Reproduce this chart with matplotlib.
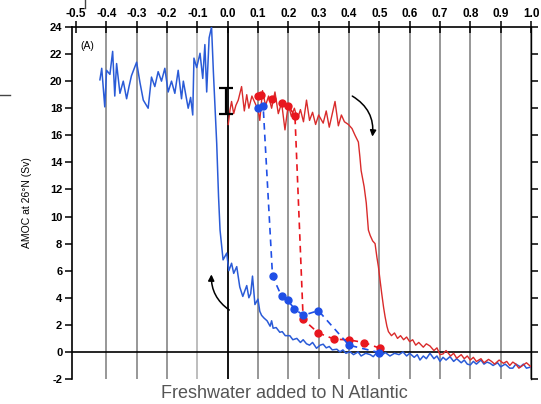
import numpy as np
import matplotlib
matplotlib.use("Agg")
import matplotlib.pyplot as plt
from matplotlib.patches import FancyArrowPatch
from matplotlib.lines import Line2D

plt.rcParams['font.family'] = ['Liberation Sans', 'DejaVu Sans']

# backward branch (blue), freshwater reduced
blue_x = [-0.421, -0.415, -0.405, -0.399, -0.388, -0.379, -0.372, -0.366, -0.355, -0.344,
          -0.333, -0.325, -0.317, -0.300, -0.289, -0.278, -0.262, -0.251, -0.240, -0.229,
          -0.218, -0.207, -0.196, -0.185, -0.174, -0.163, -0.152, -0.146, -0.130, -0.122,
          -0.115, -0.111, -0.102, -0.091, -0.082, -0.075, -0.069, -0.061, -0.053, -0.047,
          -0.036, -0.030, -0.025, -0.015, -0.003, 0.004, 0.013, 0.020, 0.030, 0.040,
          0.050, 0.063, 0.070, 0.076, 0.082, 0.090, 0.100, 0.106, 0.112, 0.120,
          0.130, 0.140, 0.145, 0.150, 0.160, 0.172, 0.180, 0.190, 0.205, 0.215,
          0.228, 0.240, 0.249, 0.260, 0.270, 0.280, 0.293, 0.305, 0.315, 0.325,
          0.335, 0.345, 0.360, 0.370, 0.380, 0.390, 0.403, 0.415, 0.430, 0.440,
          0.455, 0.470, 0.480, 0.490, 0.500, 0.510, 0.520, 0.535, 0.550, 0.565,
          0.578, 0.590, 0.600, 0.615, 0.625, 0.634, 0.645, 0.655, 0.667, 0.680,
          0.690, 0.700, 0.710, 0.720, 0.733, 0.745, 0.755, 0.770, 0.780, 0.790,
          0.800, 0.810, 0.820, 0.835, 0.845, 0.855, 0.865, 0.875, 0.890, 0.900,
          0.915, 0.930, 0.940, 0.950, 0.965, 0.975, 0.985, 0.997]
blue_y = [20.1, 20.95, 18.1, 20.8, 20.5, 22.2, 18.9, 21.3, 19.1, 20.0,
          18.7, 19.6, 20.4, 21.4, 19.9, 18.6, 18.0, 20.3, 19.6, 20.7,
          20.0, 20.95, 19.2, 20.0, 19.1, 20.8, 18.7, 20.0, 18.0, 18.8,
          17.5, 21.7, 21.0, 22.06, 20.2, 22.7, 19.2, 23.2, 24.0, 20.7,
          15.4, 11.5, 9.0, 6.8, 7.3, 6.0, 6.55, 5.8, 6.3, 4.8,
          4.1, 4.9, 4.0, 4.3, 5.6, 3.5, 3.9, 3.0, 2.7, 2.5,
          2.3, 1.9, 2.3, 1.75, 1.8, 1.45, 1.5, 1.2, 1.2, 0.9,
          1.0, 0.7, 0.9, 0.6, 0.5, 0.7, 0.27, 0.5, 0.57, 0.3,
          0.4, 0.15, 0.2, 0.0, 0.15, -0.1, 0.02, -0.2, 0.0, -0.3,
          -0.1, -0.2, -0.35, -0.1, 0.0, -0.2, -0.05, -0.3, -0.1, -0.2,
          0.0, -0.3, -0.1, -0.4, -0.2, -0.6, -0.3, -0.5, -0.1, -0.5,
          -0.3, -0.7, -0.4, -0.6, -0.35, -0.7, -0.5, -0.8, -0.6, -0.9,
          -0.96, -0.7, -0.9, -0.6, -0.9, -0.75, -0.84, -1.0, -0.8, -1.1,
          -0.9, -1.2, -1.2, -0.9, -1.1, -0.9, -1.2, -1.13]

# forward branch (red), freshwater increased
red_x = [0.002, 0.008, 0.013, 0.020, 0.027, 0.035, 0.046, 0.055, 0.063, 0.070,
         0.080, 0.090, 0.100, 0.106, 0.115, 0.125, 0.135, 0.145, 0.156, 0.167,
         0.178, 0.189, 0.200, 0.210, 0.220, 0.230, 0.240, 0.250, 0.260, 0.270,
         0.280, 0.290, 0.300, 0.315, 0.325, 0.335, 0.345, 0.354, 0.365, 0.375,
         0.385, 0.398, 0.410, 0.420, 0.431, 0.436, 0.440, 0.450, 0.457, 0.464,
         0.470, 0.478, 0.486, 0.492, 0.497, 0.503, 0.508, 0.514, 0.519, 0.525,
         0.530, 0.540, 0.550, 0.560, 0.570, 0.580, 0.590, 0.600, 0.610, 0.620,
         0.630, 0.645, 0.655, 0.667, 0.680, 0.690, 0.700, 0.710, 0.720, 0.735,
         0.745, 0.755, 0.770, 0.780, 0.790, 0.800, 0.810, 0.820, 0.835, 0.845,
         0.860, 0.870, 0.880, 0.895, 0.909, 0.920, 0.930, 0.940, 0.950, 0.960,
         0.975, 0.985, 1.000]
red_y = [16.8, 17.9, 18.5, 17.6, 18.2, 18.6, 19.6, 17.8, 19.0, 18.0,
         18.9, 18.4, 17.9, 17.1, 19.3, 18.2, 18.9, 18.0, 19.2, 17.6,
         18.4, 16.4, 18.3, 17.4, 18.0, 17.2, 17.9, 17.0, 18.6, 17.1,
         17.7, 16.8, 17.5, 16.9, 17.8, 16.6, 17.6, 18.5, 16.7, 17.5,
         17.0, 16.8, 16.5, 16.0, 15.5, 14.4, 13.4, 12.2, 11.0, 9.0,
         8.6, 8.2, 8.0, 7.0, 6.3, 5.2, 4.3, 3.3, 2.6, 1.9,
         1.5, 1.2, 1.4, 1.0, 1.2, 0.9, 1.1, 0.76, 0.9, 0.5,
         0.7, 0.35, 0.6, 0.44, 0.1, 0.3, -0.2, -0.15, 0.1, -0.3,
         -0.1, -0.47, -0.2, -0.5, -0.3, -0.6, -0.4, -0.71, -0.5, -0.8,
         -0.55, -0.7, -0.9, -0.6, -0.84, -0.7, -1.0, -0.75, -0.9, -1.2,
         -0.96, -0.8, -1.1]

# equilibrium runs (dots joined by dashed lines)
red_dot_x = [0.100, 0.110, 0.145, 0.178, 0.200, 0.222, 0.249, 0.299, 0.352, 0.400, 0.450, 0.502]
red_dot_y = [18.9, 19.0, 18.7, 18.4, 18.2, 17.4, 2.4, 1.4, 0.94, 0.89, 0.69, 0.27]
blue_dot_x = [0.100, 0.117, 0.148, 0.178, 0.198, 0.220, 0.249, 0.299, 0.400, 0.500]
blue_dot_y = [18.0, 18.2, 5.6, 4.1, 3.8, 3.2, 2.7, 3.05, 0.5, -0.05]

# observational range bar
obs_x = -0.005
obs_mid = 18.55
obs_err = 0.95

xticks = np.round(np.arange(-0.5, 1.01, 0.1), 1)
xlabels = ['-0.5', '-0.4', '-0.3', '-0.2', '-0.1', '0.0', '0.1', '0.2',
           '0.3', '0.4', '0.5', '0.6', '0.7', '0.8', '0.9', '1.0']
yticks = np.arange(-2, 25, 2)

fig = plt.figure(figsize=(5.41, 4.04), dpi=100)
ax = fig.add_axes([72/541, 25/404, 459/541, 352/404])
ax.set_xlim(-0.513, 1.0)
ax.set_ylim(-2, 24)

for xv in xticks[1:]:
    if abs(xv) < 1e-9:
        c, lw = 'black', 1.3
    elif abs(xv + 0.1) < 1e-9:
        c, lw = '#b8b8b8', 1.3
    else:
        c, lw = '#7a7a7a', 1.1
    ax.axvline(xv, color=c, lw=lw, zorder=1)
ax.axhline(0, color='black', lw=1.2, zorder=1)

ax.plot(blue_x, blue_y, color='#2a5bd7', lw=1.1, zorder=3)
ax.plot(red_x, red_y, color='#d92b2b', lw=1.0, zorder=3)

ax.plot(red_dot_x, red_dot_y, color='#e8161e', ls=(0, (4, 3)), lw=1.2,
        marker='o', ms=5, zorder=4)
ax.plot(blue_dot_x, blue_dot_y, color='#1f4fe6', ls=(0, (4, 3)), lw=1.2,
        marker='o', ms=5, zorder=4)

ax.errorbar([obs_x], [obs_mid], yerr=[obs_err], color='black', lw=1.6,
            capsize=5, capthick=1.6, zorder=5)

ax.add_patch(FancyArrowPatch((0.403, 19.0), (0.476, 15.7),
                             connectionstyle='arc3,rad=-0.35', arrowstyle='-|>',
                             mutation_scale=9, color='black', lw=1.1, zorder=6))
ax.add_patch(FancyArrowPatch((0.013, 2.98), (-0.053, 5.93),
                             connectionstyle='arc3,rad=-0.3', arrowstyle='-|>',
                             mutation_scale=9, color='black', lw=1.1, zorder=6))

ax.text(-0.485, 22.6, '(A)', fontsize=7.5, ha='left', va='center')

ax.spines['bottom'].set_visible(False)
ax.spines['top'].set_linewidth(1.2)
ax.spines['left'].set_linewidth(1.2)
ax.spines['right'].set_linewidth(1.0)

ax.set_xticks(xticks)
ax.set_xticklabels(xlabels, fontsize=8.5, fontweight='bold')
ax.tick_params(axis='x', bottom=False, labelbottom=False, top=True, labeltop=True,
               direction='inout', length=8, width=1.1, pad=1)
ax.set_yticks(yticks)
ax.set_yticklabels([str(v) for v in yticks], fontsize=8, fontweight='bold')
ax.tick_params(axis='y', left=True, right=True, direction='out', length=5,
               width=1.1, pad=2)

ax.set_ylabel('AMOC at 26°N (Sv)', fontsize=7.5, labelpad=13)
fig.text(284/541, 1 - 393/404, 'Freshwater added to N Atlantic', fontsize=13,
         color='#555555', ha='center', va='center')

# stray marks from the original figure
fig.add_artist(Line2D([0, 10/541], [1 - 95/404, 1 - 95/404], color='#444444', lw=1))
fig.add_artist(Line2D([85/541, 85/541], [1, 1 - 8/404], color='#444444', lw=1))

fig.savefig('out.png', dpi=100)
